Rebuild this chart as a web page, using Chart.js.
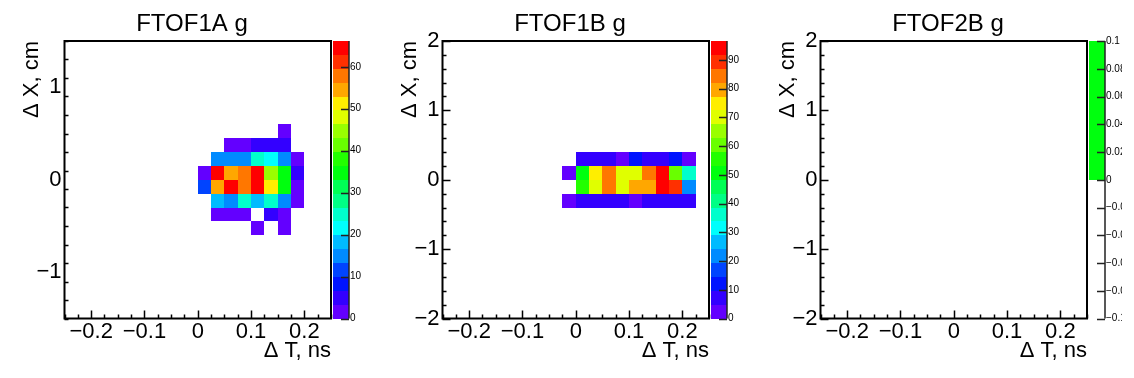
<!DOCTYPE html>
<html><head><meta charset="utf-8">
<script src="https://cdn.jsdelivr.net/npm/chart.js@4/dist/chart.umd.min.js"></script>
<style>
html,body{margin:0;padding:0;background:#fff;}
#wrap{position:relative;width:1134px;height:378px;overflow:hidden;background:#fff;}
.pad{position:absolute;top:0;height:378px;overflow:hidden;}
canvas{display:block;}
</style></head><body>
<div id="wrap">
<div class="pad" style="left:0;width:378px"><canvas id="c1" width="378" height="378"></canvas></div>
<div class="pad" style="left:378px;width:378px"><canvas id="c2" width="378" height="378"></canvas></div>
<div class="pad" style="left:756px;width:366px"><canvas id="c3" width="378" height="378"></canvas></div>
</div>
<script>
// ---------------- data ----------------
const panelTitles = ["FTOF1A g", "FTOF1B g", "FTOF2B g"];
const xAxisTitle = "\u0394 T, ns";
const yAxisTitle = "\u0394 X, cm";

const xRange = [-0.25, 0.25];
const xTickValues = [-0.2, -0.1, 0, 0.1, 0.2];
const yRange1 = [-1.5, 1.5];
const yRange23 = [-2, 2];
const yTickValues1 = [-1, 0, 1];
const yTickValues23 = [-2, -1, 0, 1, 2];

// FTOF1A: bin 0.025 ns x 0.15 cm ; rows listed top->bottom by lower edge
const ftof1aBinW = 0.025, ftof1aBinH = 0.15;
const ftof1aColLow = [0, 0.025, 0.05, 0.075, 0.1, 0.125, 0.15, 0.175];
const ftof1aRowLow = [0.45, 0.3, 0.15, 0, -0.15, -0.3, -0.45, -0.6];
const ftof1aCounts = [
  [0, 0, 0, 0, 0, 0, 2, 0],
  [0, 0, 2, 2, 5, 5, 5, 0],
  [0, 15, 15, 15, 25, 21, 15, 2],
  [2, 63, 54, 58, 63, 45, 35, 5],
  [11, 54, 63, 58, 63, 51, 35, 2],
  [0, 18, 15, 25, 18, 25, 15, 2],
  [0, 2, 2, 2, 0, 5, 2, 0],
  [0, 0, 0, 0, 2, 0, 2, 0]
];
const ftof1aZTicks = [0, 10, 20, 30, 40, 50, 60];

// FTOF1B: bin 0.025 ns x 0.2 cm
const ftof1bBinW = 0.025, ftof1bBinH = 0.2;
const ftof1bColLow = [-0.025, 0, 0.025, 0.05, 0.075, 0.1, 0.125, 0.15, 0.175, 0.2];
const ftof1bRowLow = [0.2, 0, -0.2, -0.4];
const ftof1bCounts = [
  [0, 7, 7, 7, 2, 12, 7, 7, 12, 2],
  [2, 51, 75, 85, 70, 70, 85, 92, 61, 36],
  [0, 56, 70, 85, 70, 80, 80, 92, 89, 22],
  [2, 7, 7, 7, 7, 2, 7, 7, 7, 7]
];
const ftof1bZTicks = [0, 10, 20, 30, 40, 50, 60, 70, 80, 90];

// FTOF2B: empty histogram
const ftof2bBinW = 0.025, ftof2bBinH = 0.2;
const ftof2bColLow = [];
const ftof2bRowLow = [];
const ftof2bCounts = [];
const ftof2bZRange = [-0.1, 0.1];
const ftof2bZTicks = [-0.1, -0.08, -0.06, -0.04, -0.02, 0, 0.02, 0.04, 0.06, 0.08, 0.1];

// ---------------- style ----------------
const FONT = '"Liberation Sans", Arial, Helvetica, sans-serif';
const NLEVELS = 20;
// ROOT "pretty" palette (violet -> red) sampled for 20 contours
const PALETTE = ["#6300ff","#3300ff","#0014ff","#0044ff","#008bff","#00bbff","#00fffc","#00ffcc",
  "#00ff85","#00ff55","#00ff0e","#22ff00","#69ff00","#99ff00","#e0ff00","#ffee00",
  "#ffa700","#ff7700","#ff3000","#ff0000"];

function fmt(v) {
  const s = String(+(+v).toFixed(4));
  return s.replace('-', '\u2212');
}

function maxOf(m) { let mx = 0; m.forEach(r => r.forEach(v => { if (v > mx) mx = v; })); return mx; }

function makePanel(canvasId, P) {
  const pts = [];
  P.rowLow.forEach((yl, r) => P.colLow.forEach((xl, c) => {
    const v = P.counts[r][c];
    if (v > 0) pts.push({x: xl + P.binW / 2, y: yl + P.binH / 2, v: v, xl: xl, yl: yl});
  }));

  const plugin = {
    id: 'hist2d_' + canvasId,
    beforeDatasetsDraw(chart) {
      const ctx = chart.ctx, xs = chart.scales.x, ys = chart.scales.y, a = chart.chartArea;
      ctx.save();
      ctx.beginPath(); ctx.rect(a.left, a.top, a.right - a.left, a.bottom - a.top); ctx.clip();
      chart.data.datasets[0].data.forEach(p => {
        let k = Math.floor((p.v - P.zMin) * NLEVELS / (P.zMax - P.zMin));
        k = Math.max(0, Math.min(NLEVELS - 1, k));
        const x0 = Math.round(xs.getPixelForValue(p.xl));
        const x1 = Math.round(xs.getPixelForValue(p.xl + P.binW));
        const y0 = Math.round(ys.getPixelForValue(p.yl + P.binH));
        const y1 = Math.round(ys.getPixelForValue(p.yl));
        ctx.fillStyle = PALETTE[k];
        ctx.fillRect(x0, y0, x1 - x0, y1 - y0);
      });
      ctx.restore();
    },
    afterDraw(chart) {
      const ctx = chart.ctx, xs = chart.scales.x, ys = chart.scales.y, zs = chart.scales.z, a = chart.chartArea;
      ctx.save();
      // tick marks (inward)
      ctx.strokeStyle = '#000'; ctx.lineWidth = 1.5;
      ctx.beginPath();
      const nx = Math.round((xRange[1] - xRange[0]) / 0.025);
      for (let i = 0; i <= nx; i++) {
        const v = xRange[0] + i * 0.025;
        const major = Math.abs(v / 0.1 - Math.round(v / 0.1)) < 1e-6;
        const px = Math.round(xs.getPixelForValue(v)) + 0.5;
        ctx.moveTo(px, a.bottom); ctx.lineTo(px, a.bottom - (major ? 8 : 4));
      }
      const ny = Math.round((P.yMax - P.yMin) / 0.2);
      for (let i = 0; i <= ny; i++) {
        const v = P.yMin + i * 0.2;
        const major = Math.abs(v - Math.round(v)) < 1e-6;
        const py = Math.round(ys.getPixelForValue(v)) + 0.5;
        ctx.moveTo(a.left, py); ctx.lineTo(a.left + (major ? 8 : 4), py);
      }
      ctx.stroke();
      // frame
      ctx.lineWidth = 2;
      ctx.strokeRect(a.left, a.top, a.right - a.left, a.bottom - a.top);
      // color bar
      const bx0 = a.right + 2, bx1 = a.right + 18;
      if (pts.length) {
        const step = (P.zMax - P.zMin) / NLEVELS;
        for (let k = 0; k < NLEVELS; k++) {
          const yb = zs.getPixelForValue(P.zMin + k * step);
          const yt = zs.getPixelForValue(P.zMin + (k + 1) * step);
          ctx.fillStyle = PALETTE[k];
          ctx.fillRect(bx0, Math.round(yt), bx1 - bx0, Math.round(yb) - Math.round(yt));
        }
      } else {
        const yb = zs.getPixelForValue(0), yt = zs.getPixelForValue(P.zMax);
        ctx.fillStyle = PALETTE[10];
        ctx.fillRect(bx0, Math.round(yt), bx1 - bx0, Math.round(yb) - Math.round(yt));
      }
      ctx.strokeStyle = '#222'; ctx.lineWidth = 1.5;
      ctx.beginPath();
      ctx.moveTo(bx1, a.top); ctx.lineTo(bx1, a.bottom);
      P.zTicks.forEach(v => {
        const py = Math.round(zs.getPixelForValue(v)) + 0.5;
        ctx.moveTo(bx1 - 8, py); ctx.lineTo(bx1, py);
      });
      ctx.stroke();
      ctx.restore();
    }
  };

  return new Chart(document.getElementById(canvasId), {
    type: 'scatter',
    data: { datasets: [{ data: pts, pointRadius: 0, pointHoverRadius: 0, showLine: false }] },
    options: {
      responsive: false, animation: false, devicePixelRatio: 1,
      events: [],
      layout: { padding: { left: 6, right: 0, top: 0, bottom: 0 } },
      plugins: {
        legend: { display: false }, tooltip: { enabled: false },
        title: { display: true, text: P.title, color: '#000',
                 font: { family: FONT, size: 24, weight: 'normal' },
                 padding: { top: 10, bottom: 2.2 } }
      },
      scales: {
        x: {
          type: 'linear', position: 'bottom', min: xRange[0], max: xRange[1],
          afterBuildTicks: s => { s.ticks = xTickValues.map(v => ({ value: v })); },
          afterFit: s => { s.height = 59.5; },
          grid: { display: false, drawTicks: false }, border: { display: false },
          ticks: { autoSkip: false, maxRotation: 0, padding: 0, color: '#000',
                   font: { family: FONT, size: 22 }, callback: v => fmt(v) },
          title: { display: true, text: xAxisTitle, align: 'end', color: '#000',
                   font: { family: FONT, size: 22 }, padding: { top: 0, bottom: 14 } }
        },
        y: {
          type: 'linear', position: 'left', min: P.yMin, max: P.yMax,
          afterBuildTicks: s => { s.ticks = P.yTicks.map(v => ({ value: v })); },
          afterFit: s => { s.width = 58.5; },
          grid: { display: false, drawTicks: false }, border: { display: false },
          ticks: { autoSkip: false, padding: 3, color: '#000',
                   font: { family: FONT, size: 22 }, callback: v => fmt(v) },
          title: { display: true, text: yAxisTitle, align: 'end', color: '#000',
                   font: { family: FONT, size: 22 }, padding: { top: 12.4, bottom: 0 } }
        },
        z: {
          type: 'linear', axis: 'y', position: 'right', min: P.zMin, max: P.zMax,
          afterBuildTicks: s => { s.ticks = P.zTicks.map(v => ({ value: v })); },
          afterFit: s => { s.width = 47; },
          grid: { display: false, drawTicks: false }, border: { display: false },
          ticks: { autoSkip: false, padding: 19, color: '#000',
                   font: { family: FONT, size: 10 }, callback: v => fmt(v) }
        }
      }
    },
    plugins: [plugin]
  });
}

makePanel('c1', { title: panelTitles[0], binW: ftof1aBinW, binH: ftof1aBinH,
  colLow: ftof1aColLow, rowLow: ftof1aRowLow, counts: ftof1aCounts,
  yMin: yRange1[0], yMax: yRange1[1], yTicks: yTickValues1,
  zMin: 0, zMax: maxOf(ftof1aCounts) * 1.05, zTicks: ftof1aZTicks });

makePanel('c2', { title: panelTitles[1], binW: ftof1bBinW, binH: ftof1bBinH,
  colLow: ftof1bColLow, rowLow: ftof1bRowLow, counts: ftof1bCounts,
  yMin: yRange23[0], yMax: yRange23[1], yTicks: yTickValues23,
  zMin: 0, zMax: maxOf(ftof1bCounts) * 1.05, zTicks: ftof1bZTicks });

makePanel('c3', { title: panelTitles[2], binW: ftof2bBinW, binH: ftof2bBinH,
  colLow: ftof2bColLow, rowLow: ftof2bRowLow, counts: ftof2bCounts,
  yMin: yRange23[0], yMax: yRange23[1], yTicks: yTickValues23,
  zMin: ftof2bZRange[0], zMax: ftof2bZRange[1], zTicks: ftof2bZTicks });
</script>
</body></html>
